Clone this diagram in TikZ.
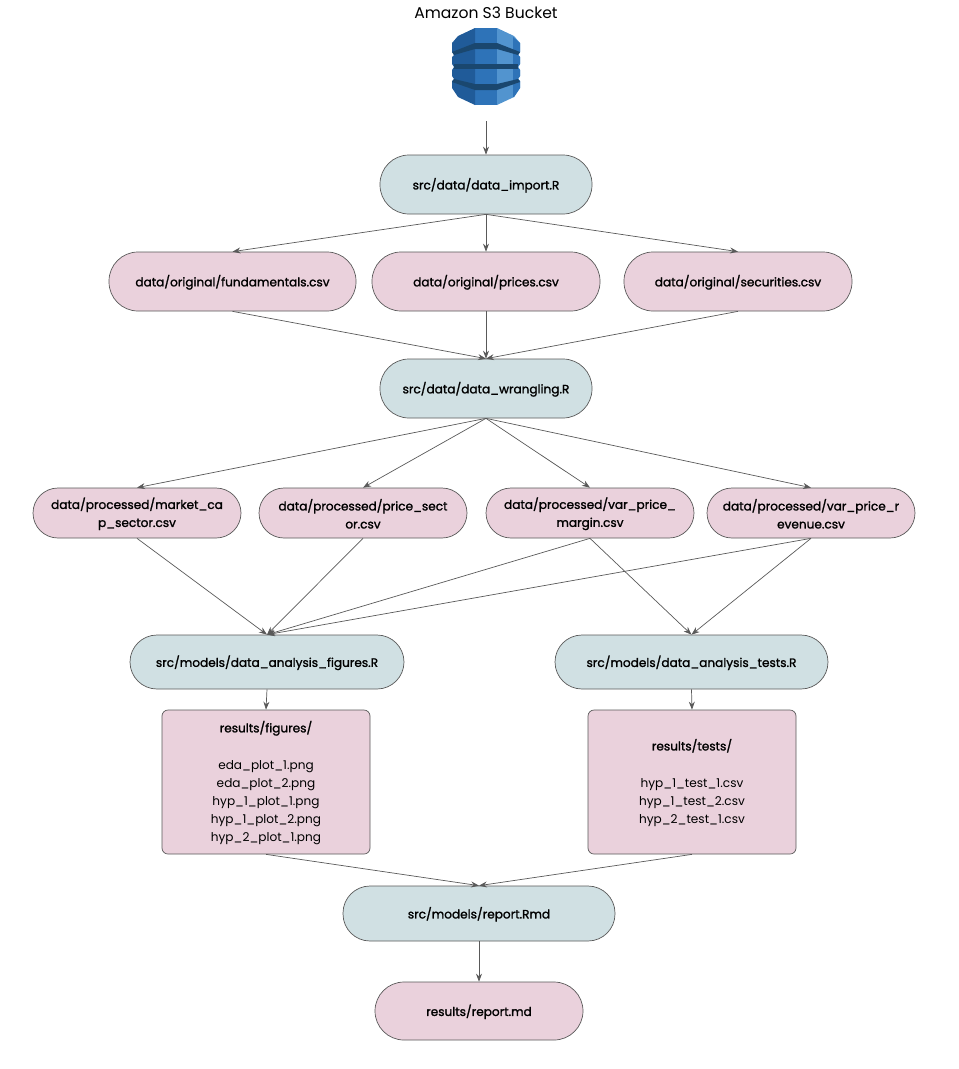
\documentclass[tikz,border=0pt]{standalone}
\usepackage{fontspec}
\setmainfont[AutoFakeBold=1.4]{Poppins}
\usetikzlibrary{arrows.meta}
\definecolor{pinkbox}{HTML}{EAD1DC}
\definecolor{bluebox}{HTML}{D0E0E3}
\definecolor{edgec}{HTML}{595959}
\definecolor{awsD}{HTML}{205B99}
\definecolor{awsM}{HTML}{2E73B8}
\definecolor{awsL}{HTML}{5294CF}
\definecolor{awsB}{HTML}{1A476F}
\newcommand{\dn}{\rule{0pt}{13pt}}
\tikzset{
  x=1pt,y=-1pt,
  basebox/.style={draw=edgec,line width=0.7pt,inner sep=0pt,align=center,text=black,font=\fontsize{12.1}{18}\selectfont\bfseries},
  pill/.style={basebox,rounded corners=#1},
  pillp/.style={pill=#1,fill=pinkbox},
  pillb/.style={pill=#1,fill=bluebox},
  folder/.style={basebox,fill=pinkbox,rounded corners=6pt},
  conn/.style={draw=edgec,line width=0.7pt,-{Stealth[length=8pt,width=6pt]}},
}
\newcommand{\boxat}[7]{\node[#1,minimum width=#5-#4,minimum height=#7-#6] (#2) at ({(#4+#5)/2},{(#6+#7)/2}) {\dn #3};}
\begin{document}
\begin{tikzpicture}
\useasboundingbox (0,0) rectangle (959,1069);
\node[font=\fontsize{15.6}{20}\selectfont,text=black,inner sep=0pt] (title) at (486,13) {Amazon S3 Bucket};
% icon
\fill[awsM] (475,28) -- (497,28) -- (497,105) -- (475,105) -- cycle;
\fill[awsD] (475,28) -- (475,105) -- (458,97) -- (452,88) -- (452,81) -- (454,79) -- (452,76) -- (452,70) -- (454,67) -- (452,64) -- (452,57) -- (454,55) -- (452,52) -- (452,43) -- (458,36) -- cycle;
\fill[awsL] (497,28) -- (497,105) -- (514,97) -- (520,88) -- (520,81) -- (518,79) -- (520,76) -- (520,70) -- (518,67) -- (520,64) -- (520,57) -- (518,55) -- (520,52) -- (520,43) -- (514,36) -- cycle;
\fill[awsM] (513,37) -- (520,43) -- (520,52) -- (518,55) -- (520,57) -- (520,64) -- (518,67) -- (520,70) -- (520,76) -- (518,79) -- (520,81) -- (520,88) -- (514,97) -- (513,97) -- cycle;
\fill[awsB] (452,52) -- (475,43) -- (497,43) -- (520,52) -- (518,55) -- (497,49) -- (475,49) -- (454,55) -- cycle;
\fill[awsB] (454,64) -- (518,64) -- (518,69) -- (454,69) -- cycle;
\fill[awsB] (454,79) -- (475,84) -- (497,84) -- (518,79) -- (520,82) -- (497,90) -- (475,90) -- (452,82) -- cycle;
% nodes
\boxat{pillb=29pt}{import}{src/data/data\_import.R}{380}{592}{155}{214}
\boxat{pillp=29pt}{fund}{data/original/fundamentals.csv}{109}{356}{252}{311}
\boxat{pillp=29pt}{prices}{data/original/prices.csv}{372}{600}{252}{311}
\boxat{pillp=29pt}{secur}{data/original/securities.csv}{624}{852}{252}{311}
\boxat{pillb=29pt}{wrang}{src/data/data\_wrangling.R}{380}{592}{359}{418}
\boxat{pillp=25pt}{mcap}{data/processed/market\_ca\\p\_sector.csv}{33}{241}{488}{538}
\boxat{pillp=25pt}{psec}{data/processed/price\_sect\\or.csv}{259}{467}{488}{538}
\boxat{pillp=25pt}{vmar}{data/processed/var\_price\_\\margin.csv}{486}{694}{488}{538}
\boxat{pillp=25pt}{vrev}{data/processed/var\_price\_r\\evenue.csv}{707}{915}{488}{538}
\boxat{pillb=27pt}{figs}{src/models/data\_analysis\_figures.R}{130}{404}{635}{689}
\boxat{pillb=27pt}{tests}{src/models/data\_analysis\_tests.R}{555}{828}{635}{689}
\boxat{folder}{resfig}{results/figures/\\[19pt]\mdseries eda\_plot\_1.png\\\mdseries eda\_plot\_2.png\\\mdseries hyp\_1\_plot\_1.png\\\mdseries hyp\_1\_plot\_2.png\\\mdseries hyp\_2\_plot\_1.png}{162}{370}{710}{854}
\boxat{folder}{restest}{results/tests/\\[19pt]\mdseries hyp\_1\_test\_1.csv\\\mdseries hyp\_1\_test\_2.csv\\\mdseries hyp\_2\_test\_1.csv}{588}{796}{710}{854}
\boxat{pillb=27pt}{rmd}{src/models/report.Rmd}{343}{615}{886}{941}
\boxat{pillp=29pt}{md}{results/report.md}{375}{583}{982}{1040}
\coordinate (iconout) at (486,121);
% connectors
\draw[conn] (iconout) -- (import.north);
\foreach \a/\b in {import/fund,import/prices,import/secur,fund/wrang,prices/wrang,secur/wrang,wrang/mcap,wrang/psec,wrang/vmar,wrang/vrev,mcap/figs,psec/figs,vmar/figs,vrev/figs,vmar/tests,vrev/tests,figs/resfig,tests/restest,resfig/rmd,restest/rmd,rmd/md}
  \draw[conn] (\a.south) -- (\b.north);
\end{tikzpicture}
\end{document}
